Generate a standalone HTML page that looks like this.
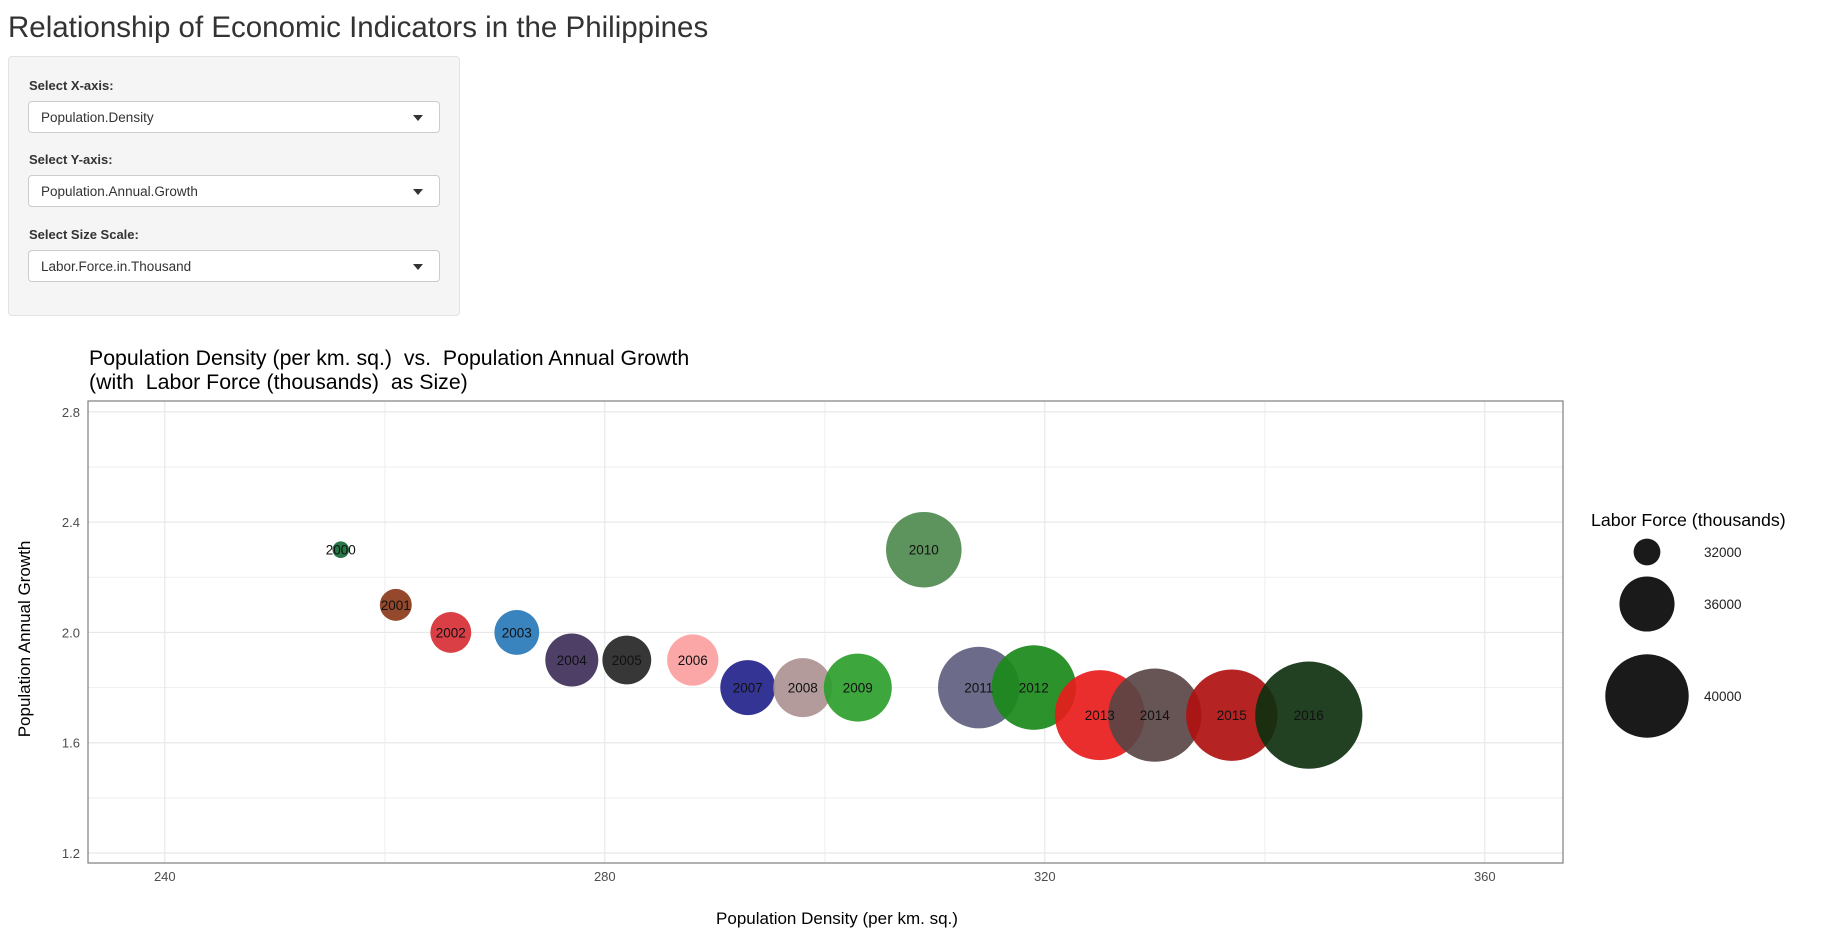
<!DOCTYPE html>
<html><head><meta charset="utf-8"><style>
body{margin:0;width:1835px;height:951px;background:#fff;font-family:"Liberation Sans",Arial,sans-serif;color:#333;position:relative;overflow:hidden}
h1{position:absolute;left:8px;top:11px;margin:0;font-size:29.5px;font-weight:normal;color:#333}
.panel{position:absolute;left:8px;top:56px;width:452px;height:260px;background:#f5f5f5;border:1px solid #e3e3e3;border-radius:4px;box-sizing:border-box}
.lbl{position:absolute;left:20px;font-size:13px;font-weight:bold;color:#333}
.sel{position:absolute;left:19px;width:412px;height:32px;background:#fff;border:1px solid #ccc;border-radius:4px;font-size:13.5px;line-height:32px;box-sizing:border-box;padding-left:12px;color:#333}
.sel:after{content:"";position:absolute;right:16px;top:13px;border-left:5px solid transparent;border-right:5px solid transparent;border-top:6px solid #333}
svg{position:absolute;left:0;top:0}
svg text{white-space:pre}
</style></head><body>
<h1>Relationship of Economic Indicators in the Philippines</h1>
<div class="panel">
<div class="lbl" style="top:21px">Select X-axis:</div>
<div class="sel" style="top:44px">Population.Density</div>
<div class="lbl" style="top:95px">Select Y-axis:</div>
<div class="sel" style="top:118px">Population.Annual.Growth</div>
<div class="lbl" style="top:170px">Select Size Scale:</div>
<div class="sel" style="top:193px">Labor.Force.in.Thousand</div>
</div>
<svg id="chart" width="1835" height="951"></svg>
<script>
const years=["2000","2001","2002","2003","2004","2005","2006","2007","2008","2009","2010","2011","2012","2013","2014","2015","2016"];
const density=[256,261,266,272,277,282,288,293,298,303,309,314,319,325,330,337,344];
const growth=[2.3,2.1,2.0,2.0,1.9,1.9,1.9,1.8,1.8,1.8,2.3,1.8,1.8,1.7,1.7,1.7,1.7];
const labor=[30560,32730,33980,34540,35700,35110,35460,35980,36550,37820,38890,39740,40160,40930,41380,41120,43360];
const colors=["#146b35","#8b3a1a","#d62f35","#2878b8","#3f2f5a","#262626","#fca0a0","#23238c","#ae9292","#2ca02c","#4f8a4f","#5f5f80","#1a8a1a","#e81c1c","#5a4545","#b01010","#0f300f"];
const xTicks=[240,280,320,360];
const yTicks=[1.2,1.6,2.0,2.4,2.8];
const legendVals=[32000,36000,40000];

const NS="http://www.w3.org/2000/svg";
const svg=document.getElementById('chart');
const L=88,R=1563,T=401,B=863;
const xs=v=>164.8+(v-240)*11.0;
const ys=v=>853-(v-1.2)*275.7;
const rs=v=>13.4+(v-32000)*0.00354;
function mk(tag,attrs,txt){const e=document.createElementNS(NS,tag);for(const k in attrs)e.setAttribute(k,attrs[k]);if(txt!==undefined)e.textContent=txt;svg.appendChild(e);return e;}

for(let i=0;i<xTicks.length-1;i++){const g=mk('line',{x1:xs((xTicks[i]+xTicks[i+1])/2),x2:xs((xTicks[i]+xTicks[i+1])/2),y1:T,y2:B,stroke:'#f0f0f0','stroke-width':1});

}
for(let i=0;i<yTicks.length-1;i++){const g=mk('line',{x1:L,x2:R,y1:ys((yTicks[i]+yTicks[i+1])/2),y2:ys((yTicks[i]+yTicks[i+1])/2),stroke:'#f0f0f0','stroke-width':1.2});

}
xTicks.forEach(t=>{const g=mk('line',{x1:xs(t),x2:xs(t),y1:T,y2:B,stroke:'#e8e8e8','stroke-width':1.2});


const tl=mk('text',{x:xs(t),y:881,'text-anchor':'middle','font-size':13,fill:'#4d4d4d'},String(t));

});
yTicks.forEach(t=>{const g=mk('line',{x1:L,x2:R,y1:ys(t),y2:ys(t),stroke:'#e8e8e8','stroke-width':1.2});


const tl=mk('text',{x:80,y:ys(t)+5,'text-anchor':'end','font-size':13,fill:'#4d4d4d'},t.toFixed(1));

});
const border=mk('rect',{x:L,y:T,width:R-L,height:B-T,fill:'none',stroke:'#7f7f7f','stroke-width':1.2});



years.forEach((y,i)=>{
 const c=mk('circle',{cx:xs(density[i]),cy:ys(growth[i]),r:rs(labor[i]),fill:colors[i],'fill-opacity':0.92});
 
 
});
years.forEach((y,i)=>{
 const t=mk('text',{x:xs(density[i]),y:ys(growth[i])+5,'text-anchor':'middle','font-size':13.5,fill:'#111'},y);
 
 
});

const t1=mk('text',{x:89,y:365,'font-size':21.3,fill:'#000'},'Population Density (per km. sq.)  vs.  Population Annual Growth');


const t2=mk('text',{x:89,y:389,'font-size':21.3,fill:'#000'},'(with  Labor Force (thousands)  as Size)');


const xt=mk('text',{x:837,y:924,'text-anchor':'middle','font-size':17,fill:'#000'},'Population Density (per km. sq.)');


const yt=mk('text',{x:0,y:0,'text-anchor':'middle','font-size':17,fill:'#000',transform:'translate(30,639) rotate(-90)'},'Population Annual Growth');



const lt=mk('text',{x:1591,y:526,'font-size':17.8,fill:'#000'},'Labor Force (thousands)');


const legY=[559,611,703];
legendVals.forEach((v,i)=>{
 const c=mk('circle',{cx:1647,cy:legY[i]-7,r:rs(v),fill:'#1a1a1a'});
 
 
 const t=mk('text',{x:1704,y:legY[i]-2,'font-size':13.5,fill:'#222'},String(v));
 
 
});
</script>
</body></html>
